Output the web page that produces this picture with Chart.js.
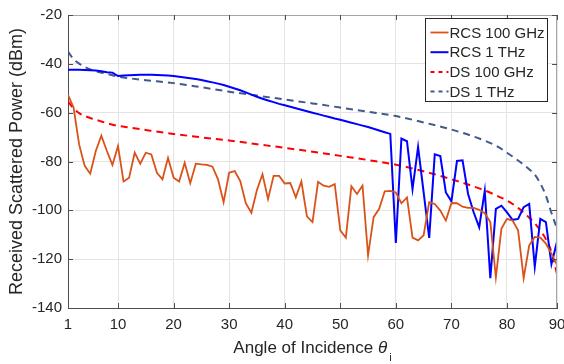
<!DOCTYPE html>
<html>
<head>
<meta charset="utf-8">
<script src="https://cdn.jsdelivr.net/npm/chart.js@4.4.1/dist/chart.umd.min.js"></script>
<style>
  html, body { margin: 0; padding: 0; background: #fff; }
</style>
</head>
<body>
<canvas id="myChart" width="564" height="364"></canvas>
<script>
// the data
const angles = [1, 2, 3, 4, 5, 6, 7, 8, 9, 10, 11, 12, 13, 14, 15, 16, 17, 18, 19, 20,
  21, 22, 23, 24, 25, 26, 27, 28, 29, 30, 31, 32, 33, 34, 35, 36, 37, 38, 39, 40,
  41, 42, 43, 44, 45, 46, 47, 48, 49, 50, 51, 52, 53, 54, 55, 56, 57, 58, 59, 60,
  61, 62, 63, 64, 65, 66, 67, 68, 69, 70, 71, 72, 73, 74, 75, 76, 77, 78, 79, 80,
  81, 82, 83, 84, 85, 86, 87, 88, 89]

const rcs100GHz = [-52.7, -57.9, -73.0, -81.8, -85.0, -75.7, -69.4, -75.7, -81.4, -73.7,
  -88.2, -86.6, -76.4, -80.9, -76.4, -77.1, -84.6, -87.3, -78.5, -86.6,
  -88.2, -80.5, -88.9, -80.9, -81.2, -81.4, -82.1, -87.3, -96.7, -84.6,
  -83.9, -88.0, -97.1, -101.0, -91.7, -85.2, -95.4, -85.9, -85.9, -89.0,
  -88.8, -94.7, -88.2, -102.5, -104.8, -88.3, -89.9, -90.4, -89.3, -108.2,
  -111.2, -90.1, -93.3, -89.9, -118.4, -102.8, -99.4, -92.2, -92.0, -92.7,
  -97.1, -94.7, -111.2, -112.3, -110.2, -96.7, -97.4, -100.1, -104.2, -97.0,
  -97.1, -98.5, -99.0, -99.0, -99.8, -101.2, -104.8, -127.4, -107.5, -103.5,
  -104.2, -108.2, -127.8, -114.3, -110.9, -111.2, -113.6, -117.7, -122.4]

const rcs1THz = [-42.4, -42.4, -42.4, -42.5, -42.6, -42.7, -43.0, -43.4, -43.6, -45.0,
  -44.8, -44.7, -44.6, -44.5, -44.5, -44.5, -44.6, -44.7, -44.8, -45.0,
  -45.3, -45.6, -45.9, -46.2, -46.6, -47.1, -47.6, -48.1, -48.7, -49.4,
  -50.1, -50.8, -51.7, -52.6, -53.5, -54.3, -55.0, -55.7, -56.4, -57.0,
  -57.6, -58.2, -58.8, -59.4, -60.0, -60.6, -61.2, -61.8, -62.4, -62.9,
  -63.5, -64.1, -64.7, -65.3, -65.9, -66.6, -67.3, -68.0, -68.7, -113.4,
  -70.6, -71.7, -91.3, -74.0, -92.6, -111.3, -77.1, -77.8, -92.7, -96.3,
  -79.8, -79.5, -93.3, -100.8, -106.9, -92.0, -127.8, -99.4, -98.1, -100.8,
  -103.9, -103.5, -98.7, -97.4, -123.1, -103.5, -104.8, -122.0, -112.9]

const dsAngles = [1, 2, 3, 4, 5, 6, 8, 10, 12, 15, 20, 25, 30, 35, 40, 45, 50, 55, 60, 65,
  70, 75, 78, 80, 82, 84, 85, 86, 87, 88, 89]

const ds100GHz = [-55.4, -58.2, -60.2, -61.3, -62.2, -62.9, -64.3, -65.4, -66.1, -67.1,
  -68.7, -70.1, -71.4, -72.9, -74.4, -76.0, -77.7, -79.4, -81.3, -84.0,
  -87.3, -91.0, -93.8, -96.0, -99.0, -103.0, -105.3, -108.2, -111.8, -117.0, -126.0]

const ds1THz = [-35.0, -38.1, -39.9, -41.3, -42.3, -43.0, -44.1, -45.2, -45.9, -46.7,
  -47.9, -49.6, -51.4, -53.0, -54.6, -56.2, -57.9, -59.6, -61.4, -64.0,
  -66.9, -70.6, -73.5, -76.4, -79.6, -83.2, -85.4, -89.0, -94.0, -101.0, -107.5]

const xTickValues = [1, 10, 20, 30, 40, 50, 60, 70, 80, 89]
const xTickLabels = ['1', '10', '20', '30', '40', '50', '60', '70', '80', '90']
const yTickValues = [-140, -120, -100, -80, -60, -40, -20]

const seriesNames = ['RCS 100 GHz', 'RCS 1 THz', 'DS 100 GHz', 'DS 1 THz']

//look
const fontFamily = "'Liberation Sans', Arial, sans-serif"
const textColor = '#262626'
const gridColor = '#e4e4e4'
const axisColor = '#4d4d4d'

function pairs(xs, ys) {
  return xs.map((v, i) => ({ x: v, y: ys[i] }))
}

//frame, inward ticks, legend box and x title with subscript
const extrasPlugin = {
  id: 'extras',
  afterDraw(chart) {
    const { ctx, chartArea: a, scales: { x, y } } = chart
    ctx.save()

    ctx.lineWidth = 1
    ctx.strokeStyle = '#a6a6a6'
    ctx.beginPath()
    ctx.moveTo(a.left, a.top + 0.5)
    ctx.lineTo(a.right, a.top + 0.5)
    ctx.moveTo(a.right - 0.5, a.top)
    ctx.lineTo(a.right - 0.5, a.bottom)
    ctx.stroke()

    ctx.strokeStyle = axisColor
    ctx.beginPath()
    xTickValues.forEach(v => {
      const px = Math.round(x.getPixelForValue(v)) + 0.5
      ctx.moveTo(px, a.bottom); ctx.lineTo(px, a.bottom - 5)
      ctx.moveTo(px, a.top); ctx.lineTo(px, a.top + 5)
    })
    yTickValues.forEach(v => {
      const py = Math.round(y.getPixelForValue(v)) + 0.5
      ctx.moveTo(a.left, py); ctx.lineTo(a.left + 5, py)
      ctx.moveTo(a.right, py); ctx.lineTo(a.right - 5, py)
    })
    ctx.stroke()

    // legend
    const bx = Math.round(a.right) - 131.5, by = Math.round(a.top) + 3.5, bw = 122, bh = 83
    ctx.fillStyle = '#ffffff'
    ctx.fillRect(bx, by, bw, bh)
    ctx.strokeStyle = '#262626'
    ctx.strokeRect(bx, by, bw, bh)
    ctx.font = '15px ' + fontFamily
    ctx.textBaseline = 'middle'
    ctx.textAlign = 'left'
    chart.data.datasets.forEach((ds, i) => {
      const ry = by + 14 + i * 19.7
      ctx.strokeStyle = ds.borderColor
      ctx.lineWidth = ds.borderWidth
      ctx.setLineDash(ds.borderDash ? [4, 4] : [])
      ctx.beginPath()
      ctx.moveTo(bx + 5, ry)
      ctx.lineTo(bx + 23, ry)
      ctx.stroke()
      ctx.setLineDash([])
      ctx.fillStyle = textColor
      ctx.fillText(ds.label, bx + 24, ry + 1)
    })

    // x axis title
    const mainText = 'Angle of Incidence '
    ctx.font = '17px ' + fontFamily
    const w1 = ctx.measureText(mainText).width
    ctx.font = 'italic 17px ' + fontFamily
    const w2 = ctx.measureText('\u03b8').width
    ctx.font = '11px ' + fontFamily
    const w3 = ctx.measureText('i').width
    let tx = (a.left + a.right) / 2 - (w1 + w2 + 2 + w3) / 2
    const base = 353
    ctx.textBaseline = 'alphabetic'
    ctx.fillStyle = textColor
    ctx.font = '17px ' + fontFamily
    ctx.fillText(mainText, tx, base)
    tx += w1
    ctx.font = 'italic 17px ' + fontFamily
    ctx.fillText('\u03b8', tx, base)
    tx += w2 + 2
    ctx.font = '11px ' + fontFamily
    ctx.fillText('i', tx, base + 8)

    ctx.restore()
  }
}

const ctx = document.getElementById('myChart').getContext('2d')

var chart = new Chart(ctx, {
  type: 'line',
  data: {
    datasets: [
      {
        label: seriesNames[0],
        data: pairs(angles, rcs100GHz),
        borderColor: '#D95319',
        borderWidth: 1.8,
        tension: 0
      },
      {
        label: seriesNames[1],
        data: pairs(angles, rcs1THz),
        borderColor: '#0000FF',
        borderWidth: 2,
        tension: 0
      },
      {
        label: seriesNames[2],
        data: pairs(dsAngles, ds100GHz),
        borderColor: '#FF0000',
        borderWidth: 2,
        borderDash: [7, 5],
        cubicInterpolationMode: 'monotone'
      },
      {
        label: seriesNames[3],
        data: pairs(dsAngles, ds1THz),
        borderColor: '#3F5A8C',
        borderWidth: 2,
        borderDash: [7, 5],
        cubicInterpolationMode: 'monotone'
      }
    ]
  },
  options: {
    responsive: false,
    animation: false,
    layout: { padding: { left: 0, right: 7, top: 12, bottom: 0 } },
    elements: { point: { radius: 0 } },
    plugins: {
      legend: { display: false },
      tooltip: { enabled: false }
    },
    scales: {
      x: {
        type: 'linear',
        min: 1,
        max: 89,
        afterBuildTicks: s => { s.ticks = xTickValues.map(v => ({ value: v })) },
        afterFit: s => {
          s.height = 56
          s.paddingLeft = 0
          s.paddingRight = 0
        },
        grid: { color: gridColor, drawTicks: false },
        border: { color: axisColor },
        ticks: {
          autoSkip: false,
          maxRotation: 0,
          padding: 8,
          color: textColor,
          font: { family: fontFamily, size: 15 },
          callback: v => xTickLabels[xTickValues.indexOf(v)]
        }
      },
      y: {
        min: -140,
        max: -20,
        afterBuildTicks: s => { s.ticks = yTickValues.map(v => ({ value: v })) },
        afterFit: s => { s.width = 68 },
        grid: { color: gridColor, drawTicks: false },
        border: { color: axisColor },
        ticks: {
          padding: 6,
          color: textColor,
          font: { family: fontFamily, size: 15 },
          callback: v => String(v)
        },
        title: {
          display: true,
          text: 'Received Scattered Power (dBm)',
          color: textColor,
          font: { family: fontFamily, size: 18 },
          padding: { top: 6, bottom: 0 }
        }
      }
    }
  },
  plugins: [extrasPlugin]
})
</script>
</body>
</html>
